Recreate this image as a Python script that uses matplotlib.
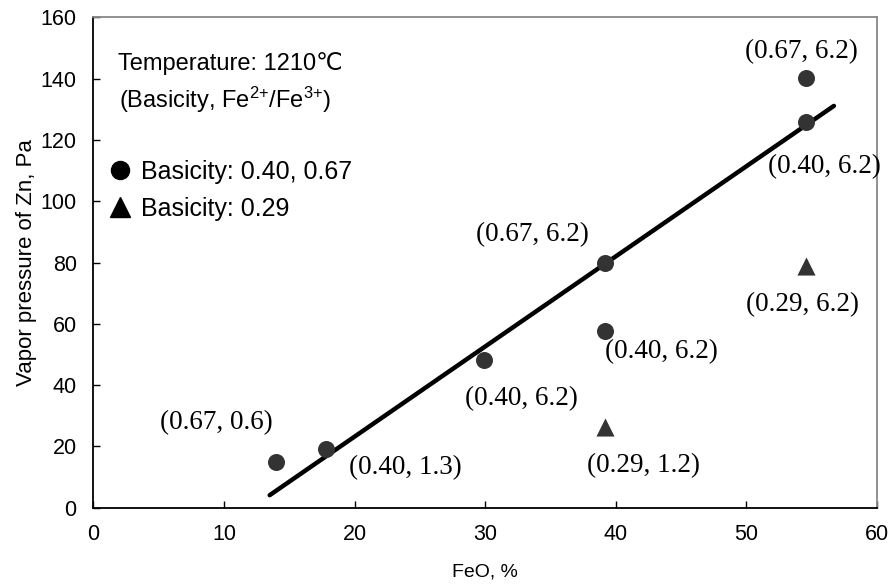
import matplotlib
matplotlib.use("Agg")
import matplotlib.pyplot as plt
from matplotlib.lines import Line2D

# FeO (%) vs Zn vapour pressure (Pa)
CIRCLE_X = [14.0, 17.8, 29.9, 39.2, 39.2, 54.6, 54.6]
CIRCLE_Y = [15.0, 19.2, 48.2, 80.0, 57.7, 140.2, 126.0]
TRI_X = [39.2, 54.6]
TRI_Y = [26.5, 79.0]
FIT_X = [13.5, 56.7]
FIT_Y = [4.1, 131.1]

LABELS = ["(0.67, 0.6)", "(0.40, 1.3)", "(0.40, 6.2)", "(0.67, 6.2)", "(0.40, 6.2)",
          "(0.67, 6.2)", "(0.40, 6.2)", "(0.29, 1.2)", "(0.29, 6.2)"]
LABEL_X = [9.4, 23.9, 32.8, 33.6, 43.5, 54.2, 56.0, 42.1, 54.3]
LABEL_Y = [27.8, 13.0, 35.7, 89.0, 51.0, 148.8, 111.4, 13.7, 66.2]

XTICKS = [0, 10, 20, 30, 40, 50, 60]
YTICKS = [0, 20, 40, 60, 80, 100, 120, 140, 160]

SANS = ["Liberation Sans", "DejaVu Sans"]
SERIF = ["Liberation Serif", "DejaVu Serif"]
DOT = "#333333"

plt.rcParams["mathtext.fontset"] = "custom"
plt.rcParams["mathtext.rm"] = "Liberation Sans"

fig = plt.figure(figsize=(8.89, 5.86), dpi=100)
ax = fig.add_axes([0.105, 0.1335, 0.8815, 0.837])

ax.plot(FIT_X, FIT_Y, color="black", lw=3.2, solid_capstyle="round", zorder=2)
ax.scatter(CIRCLE_X, CIRCLE_Y, s=150, marker="o", color=DOT, zorder=3, linewidths=0)
ax.scatter(TRI_X, TRI_Y, s=170, marker="^", color=DOT, zorder=3, linewidths=0)

for t, x, y in zip(LABELS, LABEL_X, LABEL_Y):
    ax.text(x, y, t, ha="center", va="center", fontsize=19.5, family=SERIF,
            clip_on=False)

ax.text(10.5, 144.8, "Temperature: 1210\u2103", ha="center", va="center",
        fontsize=17, family=SANS)
ax.text(10.1, 133.2, "(Basicity, Fe$\\mathregular{^{2{+}}}$/Fe$\\mathregular{^{3{+}}}$)",
        ha="center", va="center", fontsize=17, family=SANS)

handles = [
    Line2D([], [], ls="none", marker="o", color="black", markersize=13),
    Line2D([], [], ls="none", marker="^", color="black", markersize=14),
]
leg = ax.legend(handles, ["Basicity: 0.40, 0.67", "Basicity: 0.29"],
                loc="upper left", bbox_to_anchor=(0.021, 0.71),
                frameon=False, handlelength=0.8, handletextpad=0.45,
                labelspacing=0.52, borderaxespad=0, borderpad=0,
                prop={"family": SANS, "size": 18})

ax.set_xlim(0, 60)
ax.set_ylim(0, 160)
ax.set_xticks(XTICKS)
ax.set_yticks(YTICKS)
ax.tick_params(direction="in", length=5, width=1, labelsize=15.5, pad=12)
for lab in ax.get_xticklabels() + ax.get_yticklabels():
    lab.set_family(SANS)
ax.set_xlabel("FeO, %", fontsize=14, family=SANS, labelpad=13)
ax.set_ylabel("Vapor pressure of Zn, Pa", fontsize=16, family=SANS, labelpad=2.5)

for side in ("left", "bottom"):
    ax.spines[side].set_color("black")
    ax.spines[side].set_linewidth(1.3)
for side in ("top", "right"):
    ax.spines[side].set_color("#888888")
    ax.spines[side].set_linewidth(1.3)

fig.savefig("out.png", dpi=100)
